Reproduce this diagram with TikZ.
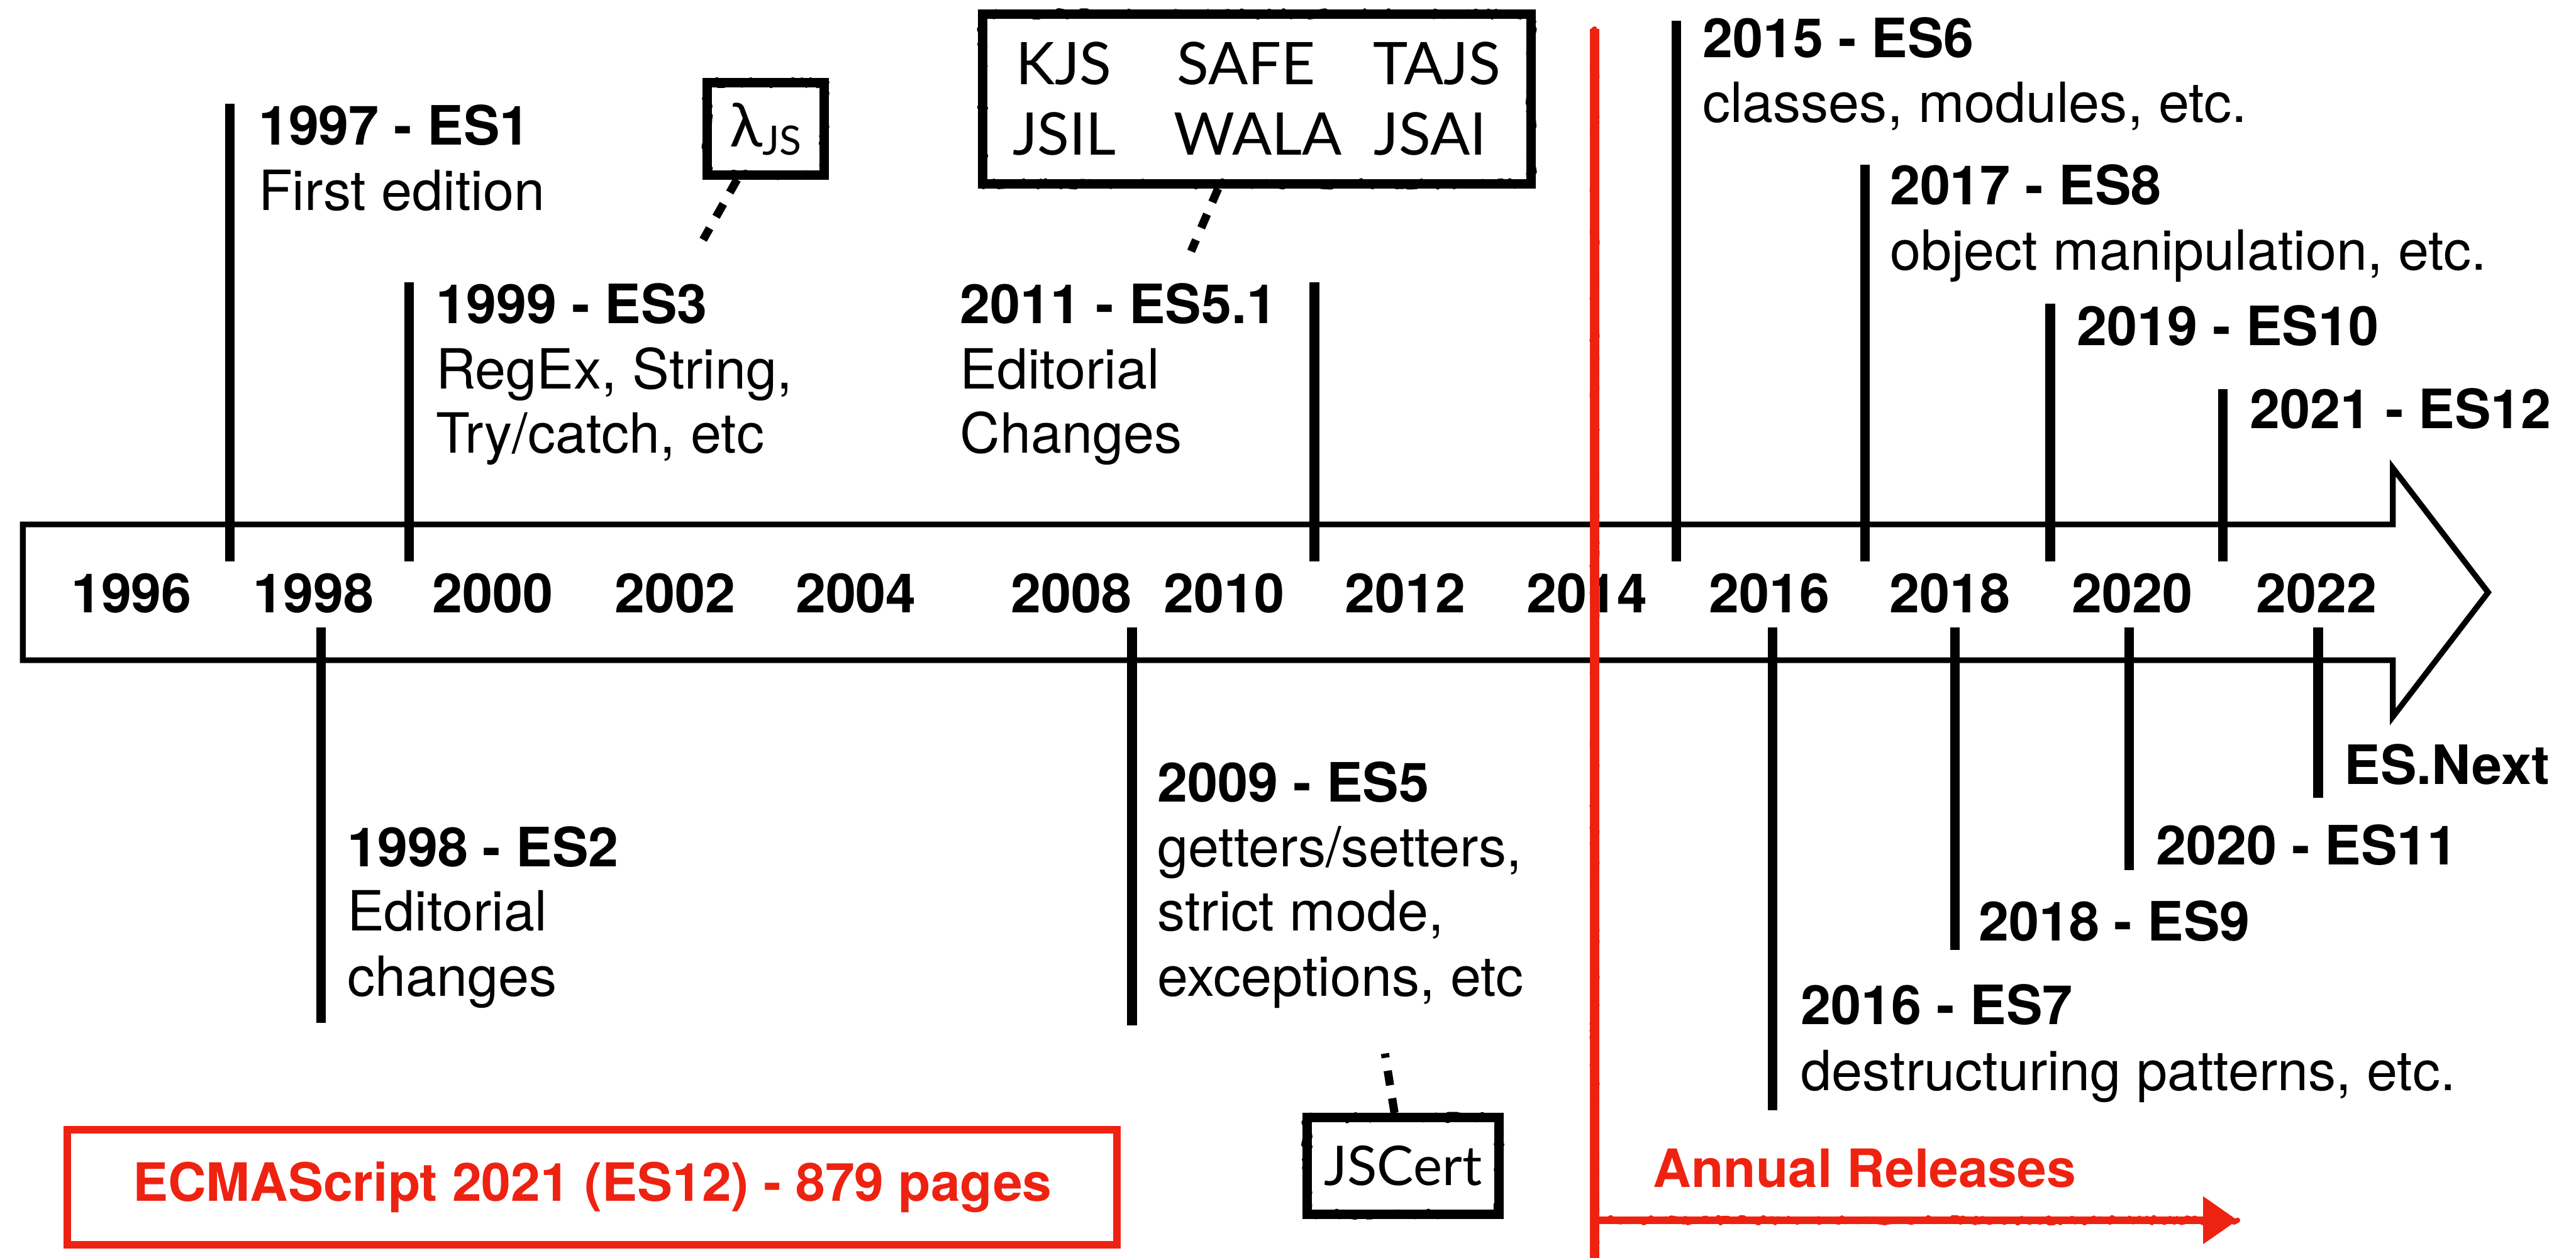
\documentclass[tikz,border=0pt]{standalone}
\usepackage{fontspec}
\setmainfont{TeX Gyre Heros}
\newfontfamily\boxfont{Lato}
\usetikzlibrary{arrows.meta,decorations.pathmorphing}
\definecolor{ecmared}{RGB}{238,34,17}

\begin{document}
\pgfmathsetseed{11}
\begin{tikzpicture}[x=0.02cm,y=-0.02cm,
  hdr/.style={anchor=base west, inner sep=0pt, font=\bfseries\fontsize{18.8pt}{22.4pt}\selectfont},
  desc/.style={anchor=base west, inner sep=0pt, font=\fontsize{19.2pt}{22.4pt}\selectfont},
  year/.style={anchor=base, inner sep=0pt, font=\bfseries\fontsize{18.8pt}{22.4pt}\selectfont},
  tick/.style={draw=black, line width=0.118cm},
  body/.style={draw=black, line width=0.07cm, miter limit=10},
  sketch/.style={draw=black, line width=0.115cm, inner sep=0pt, rectangle,
     postaction={draw=black, line width=1.6pt, line join=round, line cap=round, decorate,
       decoration={random steps, segment length=1.2pt, amplitude=1.2pt}}},
  toolword/.style={anchor=base west, inner sep=0pt, font=\boxfont\fontsize{20.4pt}{24pt}\selectfont},
  conn/.style={draw=black, line width=0.1cm, dash pattern=on 0.18cm off 0.16cm},
  crayon/.style={draw=ecmared, line width=0.11cm,
     postaction={draw=ecmared, -, line width=1.8pt, line join=round, line cap=round, decorate,
       decoration={random steps, segment length=1pt, amplitude=0.9pt}}},
  redlabel/.style={text=ecmared, font=\bfseries\fontsize{18.3pt}{22.4pt}\selectfont, inner sep=0pt},
]
\useasboundingbox (0,0) rectangle (1568,766);
\fill[white] (0,0) rectangle (1568,766);

% timeline arrow
\draw[body] (13.9,319.3) -- (1456.5,319.3) -- (1456.5,285) -- (1514.5,360.7)
  -- (1456.5,436.4) -- (1456.5,402) -- (13.9,402) -- cycle;

% year marks inside the arrow
\foreach \yr/\xx in {1996/80,1998/191,2000/300,2002/411,2004/521,2008/652,2010/745,
                     2012/855.5,2014/966,2016/1077,2018/1187,2020/1298,2022/1410}
  \node[year] (y\yr) at (\xx,373) {\yr};

% ticks above the timeline
\draw[tick] (140,63.2) -- (140,342);
\draw[tick] (249,172) -- (249,342);
\draw[tick] (800,172) -- (800,342);
\draw[tick] (1020.3,12.7) -- (1020.3,342);
\draw[tick] (1135.3,100.3) -- (1135.3,342);
\draw[tick] (1248,185) -- (1248,342);
\draw[tick] (1353,236.8) -- (1353,342);

% ticks below the timeline
\draw[tick] (195.5,382) -- (195.5,623);
\draw[tick] (689,382) -- (689,624.5);
\draw[tick] (1079,382) -- (1079,676);
\draw[tick] (1190,382) -- (1190,578.5);
\draw[tick] (1296,382) -- (1296,530);
\draw[tick] (1411,382) -- (1411,485.6);

% editions above
\node[hdr]  (es1)   at (157,88.4)  {1997 - ES1};
\node[desc] (es1a)  at (157,128)   {First edition};
\node[hdr]  (es3)   at (265,197)   {1999 - ES3};
\node[desc] (es3a)  at (265,236.7) {RegEx, String,};
\node[desc] (es3b)  at (265,276)   {Try/catch, etc};
\node[hdr]  (es51)  at (584,197)   {2011 - ES5.1};
\node[desc] (es51a) at (584,236.7) {Editorial};
\node[desc] (es51b) at (584,276)   {Changes};
\node[hdr]  (es6)   at (1036,35.2) {2015 - ES6};
\node[desc] (es6a)  at (1036,74.5) {classes, modules, etc.};
\node[hdr]  (es8)   at (1150,124.7) {2017 - ES8};
\node[desc] (es8a)  at (1150,164.4) {object manipulation, etc.};
\node[hdr]  (es10)  at (1264,210.5) {2019 - ES10};
\node[hdr]  (es12)  at (1369,261)   {2021 - ES12};

% editions below
\node[hdr]  (es2)   at (211,527.7) {1998 - ES2};
\node[desc] (es2a)  at (211,566.8) {Editorial};
\node[desc] (es2b)  at (211,606.5) {changes};
\node[hdr]  (es5)   at (704.3,488.4) {2009 - ES5};
\node[desc] (es5a)  at (704.3,527.7) {getters/setters,};
\node[desc] (es5b)  at (704.3,566.8) {strict mode,};
\node[desc] (es5c)  at (704.3,606.5) {exceptions, etc};
\node[hdr]  (es7)   at (1096,623.7) {2016 - ES7};
\node[desc] (es7a)  at (1096,664)   {destructuring patterns, etc.};
\node[hdr]  (es9)   at (1204,572.7) {2018 - ES9};
\node[hdr]  (es11)  at (1312,526.6) {2020 - ES11};
\node[hdr]  (esnext) at (1426.7,477.5) {ES.Next};

% analysis tools and semantics
\node[sketch, minimum width=1.42cm, minimum height=1.12cm] (lamjs) at (466,78.5)
  {\boxfont\fontsize{21pt}{22pt}\selectfont λ\raisebox{-0.1cm}{\fontsize{14pt}{15pt}\selectfont JS}};
\coordinate (lamjsend) at (428,146);
\draw[conn] (lamjs) -- (lamjsend);

\node[sketch, minimum width=6.68cm, minimum height=2.07cm] (tools) at (765,60.25) {};
\node[toolword] (kjs)  at (618,51.4)   {KJS};
\node[toolword] (safe) at (716,51.4)   {SAFE};
\node[toolword] (tajs) at (835.5,51.4) {TAJS};
\node[toolword] (jsil) at (616,94.5)   {JSIL};
\node[toolword] (wala) at (714,94.5)   {WALA};
\node[toolword] (jsai) at (836,94.5)   {JSAI};
\coordinate (toolsend) at (725,153);
\draw[conn] (tools) -- (toolsend);

\node[sketch, minimum width=2.34cm, minimum height=1.18cm,
      font=\boxfont\fontsize{19pt}{24pt}\selectfont] (jscert) at (854,710) {JSCert};
\coordinate (jscertend) at (843,641.5);
\draw[conn] (jscert) -- (jscertend);

% specification size
\node[draw=ecmared, line width=0.09cm, minimum width=12.78cm, minimum height=1.4cm,
      redlabel] (spec) at (360.5,723) {ECMAScript 2021 (ES12) - 879 pages};

% annual release period
\coordinate (redtop) at (970.6,17.6);
\coordinate (redbot) at (970.6,775);
\draw[crayon] (redtop) -- (redbot);
\coordinate (relstart) at (970.6,743);
\coordinate (relend) at (1362,743);
\draw[crayon, line width=0.088cm, -{Triangle[length=0.42cm,width=0.56cm]}] (relstart) -- (relend);
\node[redlabel, anchor=base west] (annual) at (1006,723) {Annual Releases};
\end{tikzpicture}
\end{document}
